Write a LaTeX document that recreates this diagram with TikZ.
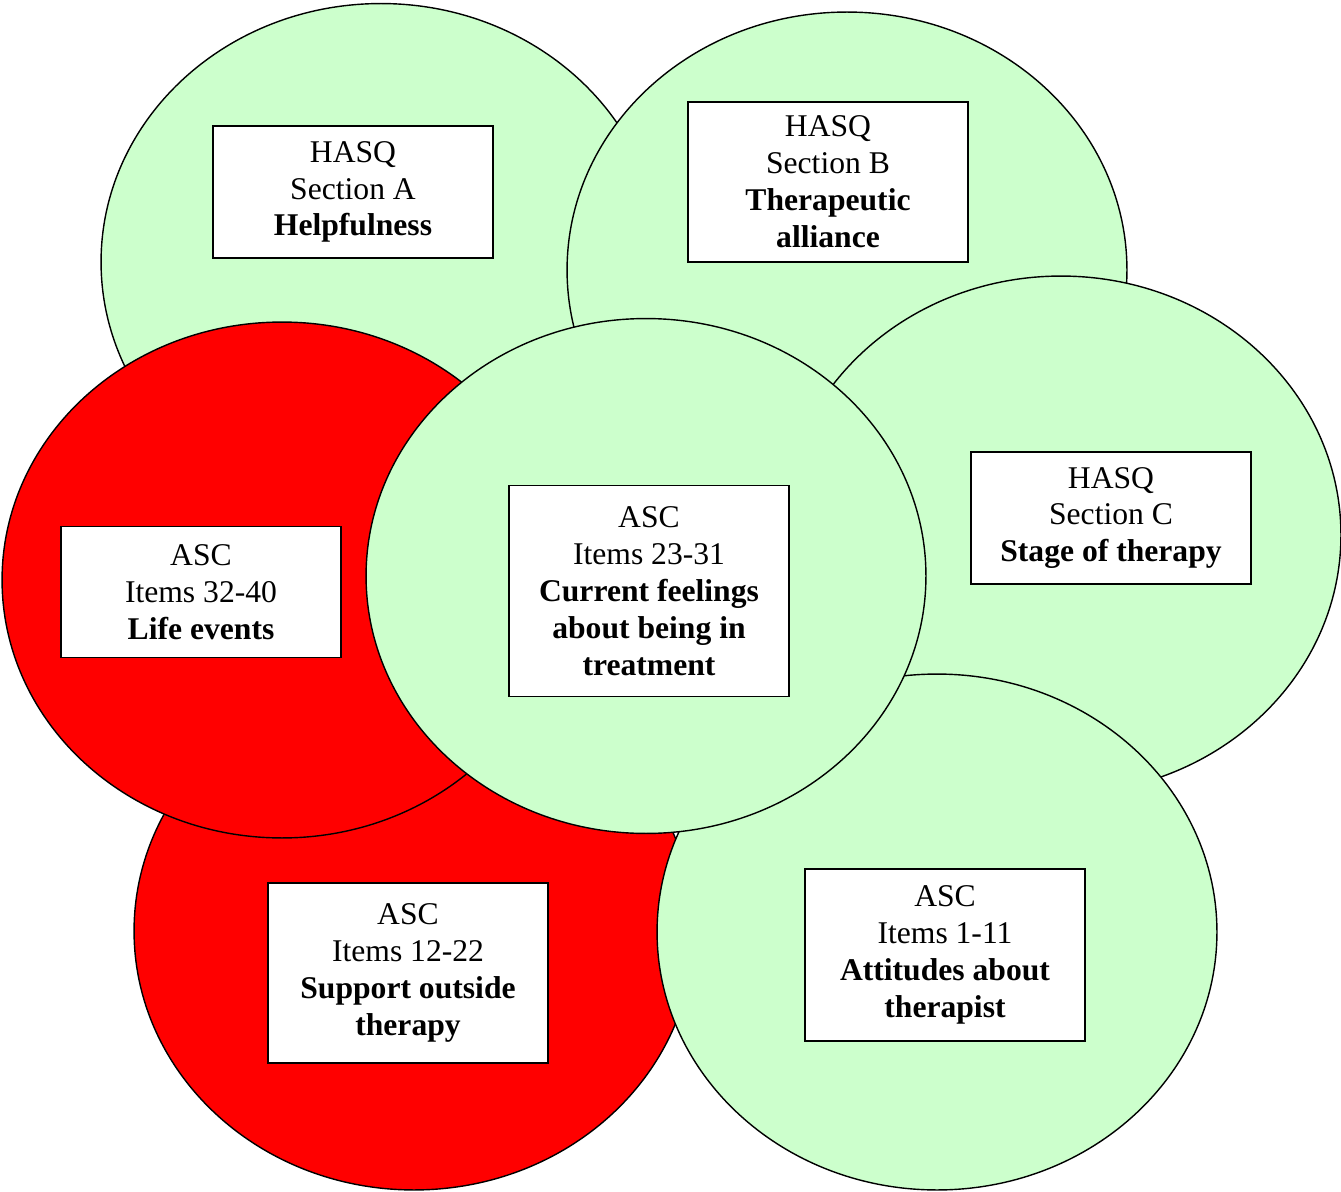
\documentclass[tikz,border=0pt]{standalone}
\usepackage{fontspec}
\setmainfont{Liberation Serif}
\usetikzlibrary{calc}
\definecolor{mint}{HTML}{CCFFCC}
\definecolor{alarm}{HTML}{FF0000}
\tikzset{
    blob/.style={draw, line width=0.8pt},
    itembox/.style={draw, fill=white, line width=0.8pt, align=center, minimum width=5.6cm, inner sep=2pt, font=\fontsize{18}{21}\selectfont},
}

\begin{document}
\begin{tikzpicture}[x=0.02cm, y=-0.02cm]

    \useasboundingbox (0, 0) rectangle (1341, 1192);

    \begin{scope}
        \coordinate (TL) at (381, 262);
        \coordinate (TR) at (847, 270);
        \coordinate (R) at (1061, 535);
        \coordinate (BL) at (414, 931);
        \coordinate (BR) at (937, 932);
        \coordinate (L) at (282, 580);
        \coordinate (C) at (646, 576);

        \draw[blob, fill=mint] (TL) ellipse (5.6cm and 5.17cm);
        \draw[blob, fill=mint] (TR) ellipse (5.6cm and 5.16cm);
        \draw[blob, fill=mint] (R) ellipse (5.6cm and 5.18cm);
        \draw[blob, fill=alarm] (BL) ellipse (5.6cm and 5.18cm);
        \draw[blob, fill=mint] (BR) ellipse (5.6cm and 5.16cm);
        \draw[blob, fill=alarm] (L) ellipse (5.6cm and 5.16cm);
        \draw[blob, fill=mint] (C) ellipse (5.6cm and 5.15cm);
    \end{scope}

    \node[itembox, minimum height=2.64cm] (secA) at (353, 192) {HASQ\\Section A\\\textbf{Helpfulness}};
    \node[itembox, minimum height=3.2cm] (secB) at (828, 182) {HASQ\\Section B\\\textbf{Therapeutic}\\\textbf{alliance}};
    \node[itembox, minimum height=2.64cm] (secC) at (1111, 518) {HASQ\\Section C\\\textbf{Stage of therapy}};
    \node[itembox, minimum height=2.62cm] (life) at (201, 592) {ASC\\Items 32-40\\\textbf{Life events}};
    \node[itembox, minimum height=4.22cm] (feel) at (649, 591) {ASC\\Items 23-31\\\textbf{Current feelings}\\\textbf{about being in}\\\textbf{treatment}};
    \node[itembox, minimum height=3.6cm] (supp) at (408, 973) {ASC\\Items 12-22\\\textbf{Support outside}\\\textbf{therapy}};
    \node[itembox, minimum height=3.44cm] (att) at (945, 955) {ASC\\Items 1-11\\\textbf{Attitudes about}\\\textbf{therapist}};

\end{tikzpicture}
\end{document}
